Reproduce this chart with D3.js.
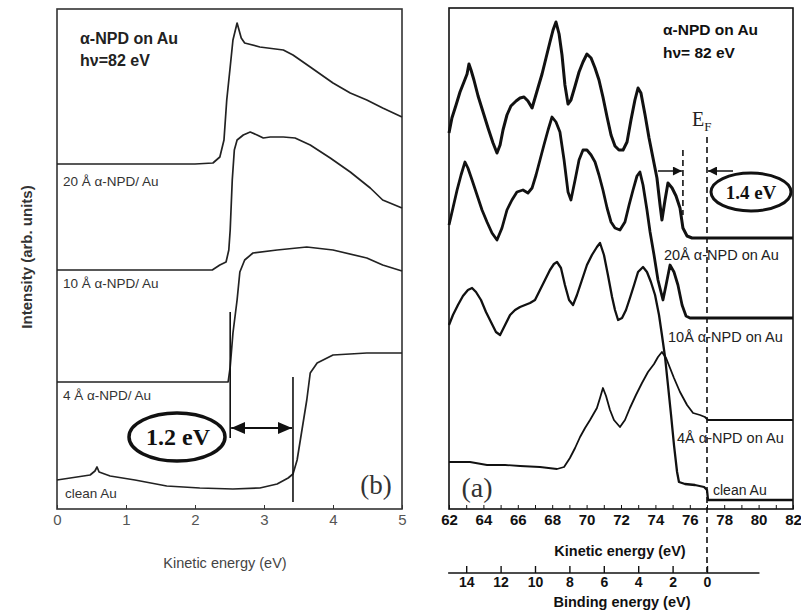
<!DOCTYPE html>
<html><head><meta charset="utf-8">
<script src="https://cdn.jsdelivr.net/npm/d3@7"></script>
<style>body{margin:0;background:#fff} svg{display:block}</style>
</head><body>
<svg id="chart" width="801" height="612"></svg>
<script>
// ---------- Panel (b): secondary-electron cutoff region ----------
const cutoffTicks = [0, 1, 2, 3, 4, 5];
const cutoffLabels = ["20 Å α-NPD/ Au", "10 Å α-NPD/ Au", "4 Å α-NPD/ Au", "clean Au"];
// [kinetic energy (eV), intensity (arb.)]
const cutoff20 = [[0,69],[1,69],[2,69],[2.26,69.2],[2.36,70.4],[2.42,73.8],[2.46,81.8],[2.51,88.4],[2.55,93.8],[2.61,97.2],[2.67,94.2],[2.72,93.2],[2.94,92.4],[3.28,91.8],[3.42,90.8],[3.67,88.4],[4.00,85.2],[4.25,83.2],[4.49,81.8],[4.72,80.2],[5.00,78.4]];
const cutoff10 = [[0,47.8],[1,47.8],[2,47.8],[2.25,47.8],[2.36,48.8],[2.45,49.4],[2.49,51.8],[2.51,55.8],[2.54,65.8],[2.57,71.8],[2.61,73.8],[2.70,74.8],[2.80,75.4],[2.90,74.8],[2.99,74.2],[3.09,74.4],[3.28,74.4],[3.45,74.2],[3.67,72.8],[3.96,70.2],[4.25,67.4],[4.54,64.2],[4.72,61.8],[5.00,60.2]];
const cutoff4 = [[0,25.4],[1,25.4],[2,25.4],[2.48,25.4],[2.51,28.4],[2.55,35.2],[2.61,41.8],[2.65,47.4],[2.72,49.8],[2.84,51.2],[3.19,51.8],[3.62,52.4],[4.00,51.8],[4.49,50.2],[4.72,48.8],[5.00,47.6]];
const cutoffAu = [[0,5.8],[0.48,6.8],[0.55,7.6],[0.58,8.4],[0.61,7.4],[0.77,6.6],[1.13,5.8],[1.59,4.6],[2.07,4.2],[2.55,4.0],[2.94,4.2],[3.19,5.0],[3.35,6.2],[3.42,7.0],[3.48,9.8],[3.55,15.8],[3.62,21.8],[3.67,27.2],[3.77,29.2],[4.00,30.8],[4.49,31.2],[5.00,31.2]];
// cutoff markers: [energy, top intensity, bottom intensity]
const cutoffMarks = [[2.51, 39.4, 14.2], [3.42, 26.4, 1.4]];
const shiftB = "1.2 eV";

// ---------- Panel (a): valence band ----------
const keTicks = [62, 64, 66, 68, 70, 72, 74, 76, 78, 80, 82];
const beTicks = [14, 12, 10, 8, 6, 4, 2, 0];
const fermiKE = 77.0;
const homoKE = 75.6;
const shiftA = "1.4 eV";
const valenceLabels = ["20Å α-NPD on Au", "10Å α-NPD on Au", "4Å α-NPD on Au", "clean Au"];
const vbTop = [[62.00,376],[62.17,391],[62.41,404],[62.64,417],[62.87,427],[63.05,435],[63.16,445],[63.28,439],[63.45,429],[63.69,413],[63.98,397],[64.27,381],[64.56,366],[64.79,356],[64.97,364],[65.14,379],[65.37,394],[65.60,403],[65.90,408],[66.13,411],[66.36,412],[66.59,408],[66.83,401],[67.00,411],[67.17,421],[67.41,435],[67.64,451],[67.87,467],[68.05,479],[68.22,487],[68.40,475],[68.57,454],[68.74,424],[68.92,405],[69.09,409],[69.33,423],[69.56,437],[69.79,447],[70.02,455],[70.26,451],[70.49,441],[70.72,429],[70.95,412],[71.19,392],[71.42,374],[71.65,363],[71.88,359],[72.12,359],[72.35,367],[72.58,389],[72.81,409],[72.99,421],[73.16,416],[73.40,394],[73.63,371],[73.86,351],[74.09,331],[74.27,304],[74.38,289],[74.56,309],[74.73,326],[74.97,321],[75.20,313],[75.43,301],[75.60,281],[75.84,273],[76.13,271],[77.76,271],[80.08,271],[82.00,271]];
const vbSecond = [[62.00,284],[62.23,301],[62.47,319],[62.70,334],[62.93,347],[63.10,341],[63.34,329],[63.63,314],[63.92,299],[64.21,287],[64.50,276],[64.79,269],[65.08,281],[65.37,299],[65.66,309],[65.95,317],[66.30,319],[66.59,316],[66.83,321],[67.06,334],[67.29,349],[67.52,364],[67.76,379],[67.99,392],[68.22,387],[68.45,377],[68.69,349],[68.92,317],[69.09,309],[69.33,329],[69.56,349],[69.79,359],[70.02,359],[70.26,354],[70.49,347],[70.72,334],[70.95,319],[71.19,301],[71.42,287],[71.65,281],[71.94,279],[72.23,287],[72.47,304],[72.70,319],[72.93,333],[73.10,337],[73.28,324],[73.51,299],[73.69,277],[73.92,254],[74.15,229],[74.44,209],[74.62,224],[74.85,244],[75.08,237],[75.31,224],[75.55,204],[75.78,193],[76.01,191],[82.00,191]];
const vbThird = [[62.00,184],[62.23,194],[62.52,204],[62.81,213],[63.10,219],[63.34,221],[63.57,217],[63.86,209],[64.15,197],[64.44,187],[64.73,177],[64.97,174],[65.26,184],[65.55,194],[65.84,199],[66.13,202],[66.42,204],[66.71,206],[67.00,209],[67.29,219],[67.58,229],[67.87,239],[68.10,245],[68.28,247],[68.51,241],[68.74,224],[68.98,209],[69.21,204],[69.44,214],[69.73,229],[70.02,244],[70.31,254],[70.60,262],[70.78,266],[71.01,254],[71.24,234],[71.48,212],[71.65,199],[71.83,189],[72.06,191],[72.29,199],[72.52,211],[72.76,224],[72.99,237],[73.28,242],[73.51,237],[73.74,227],[73.98,214],[74.21,194],[74.38,174],[74.56,152],[74.73,124],[74.91,94],[75.08,64],[75.26,37],[75.37,27],[75.72,25],[76.30,24],[76.83,22],[77.00,19],[77.06,9],[82.00,9]];
const vbFourth = [[62.00,47],[63.22,47],[64.21,44],[65.26,44],[66.13,43],[67.29,42],[68.28,40],[68.69,42],[69.03,51],[69.33,61],[69.62,72],[69.91,81],[70.20,89],[70.60,101],[70.78,111],[70.95,121],[71.13,113],[71.36,99],[71.59,89],[71.94,82],[72.23,89],[72.52,101],[72.87,114],[73.22,126],[73.57,137],[73.92,145],[74.15,152],[74.38,157],[74.62,151],[74.85,141],[75.08,131],[75.43,117],[75.84,104],[76.19,96],[76.59,94],[76.88,92],[77.06,89],[82.00,89]];

const svg = d3.select("#chart");
const ink = "#111";
const sans = "Liberation Sans, Arial, sans-serif";
const serif = "Liberation Serif, Times New Roman, serif";

// shared arrowhead markers
const defs = svg.append("defs");
defs.append("marker").attr("id", "headEnd").attr("viewBox", "0 0 10 10")
  .attr("refX", 10).attr("refY", 5).attr("markerWidth", 10).attr("markerHeight", 9)
  .attr("markerUnits", "userSpaceOnUse").attr("orient", "auto")
  .append("path").attr("d", "M0,0 L10,5 L0,10 Z").attr("fill", ink);
defs.append("marker").attr("id", "bigHead").attr("viewBox", "0 0 14 12")
  .attr("refX", 14).attr("refY", 6).attr("markerWidth", 14).attr("markerHeight", 12)
  .attr("markerUnits", "userSpaceOnUse").attr("orient", "auto-start-reverse")
  .append("path").attr("d", "M0,0 L14,6 L0,12 Z").attr("fill", ink);

// ================= Panel (b) =================
const xB = d3.scaleLinear().domain([0, 5]).range([57, 402]);
const yB = d3.scaleLinear().domain([0, 100]).range([509, 9]);
const gB = svg.append("g");
gB.append("rect").attr("x", 57).attr("y", 9).attr("width", 345).attr("height", 500)
  .attr("fill", "none").attr("stroke", "#333").attr("stroke-width", 1.6);

const lineB = d3.line().x(d => xB(d[0])).y(d => yB(d[1]));
[cutoff20, cutoff10, cutoff4, cutoffAu].forEach(s => {
  gB.append("path").datum(s).attr("d", lineB).attr("fill", "none")
    .attr("stroke", "#222").attr("stroke-width", 1.7).attr("stroke-linejoin", "round");
});

const axB = gB.append("g").attr("transform", "translate(0,509)")
  .call(d3.axisBottom(xB).tickValues(cutoffTicks).tickSize(-4).tickPadding(5).tickFormat(d3.format("d")));
axB.select(".domain").remove();
axB.selectAll("line").attr("stroke", "#333");
axB.selectAll("text").attr("font-family", sans).attr("font-size", 15).attr("fill", "#555");

gB.append("text").attr("x", 225).attr("y", 568).attr("text-anchor", "middle")
  .attr("font-family", sans).attr("font-size", 14.5).attr("fill", "#444")
  .text("Kinetic energy (eV)");
gB.append("text").attr("transform", "translate(32,257) rotate(-90)").attr("text-anchor", "middle")
  .attr("font-family", sans).attr("font-size", 15)
  .attr("font-weight", "bold").attr("fill", "#333").text("Intensity (arb. units)");

gB.append("text").attr("x", 80).attr("y", 44).attr("font-family", sans)
  .attr("font-size", 16).attr("font-weight", "bold").attr("fill", "#222").text("α-NPD on Au");
gB.append("text").attr("x", 80).attr("y", 66).attr("font-family", sans)
  .attr("font-size", 16).attr("font-weight", "bold").attr("fill", "#222").text("hν=82 eV");

const labelYB = [186, 288, 400, 498];
cutoffLabels.forEach((t, i) => {
  gB.append("text").attr("x", i === 3 ? 65 : 63).attr("y", labelYB[i])
    .attr("font-family", sans).attr("font-size", 13.5).attr("fill", "#333").text(t);
});

// cutoff markers and shift arrow
cutoffMarks.forEach(m => {
  gB.append("line").attr("x1", xB(m[0])).attr("x2", xB(m[0]))
    .attr("y1", yB(m[1])).attr("y2", yB(m[2])).attr("stroke", ink).attr("stroke-width", 1.6);
});
gB.append("line").attr("x1", xB(cutoffMarks[0][0]) + 1).attr("x2", xB(cutoffMarks[1][0]) - 1)
  .attr("y1", 428).attr("y2", 428).attr("stroke", ink).attr("stroke-width", 2)
  .attr("marker-start", "url(#bigHead)").attr("marker-end", "url(#bigHead)");
gB.append("ellipse").attr("cx", 177).attr("cy", 437).attr("rx", 48).attr("ry", 24)
  .attr("fill", "none").attr("stroke", ink).attr("stroke-width", 3.5);
gB.append("text").attr("x", 178).attr("y", 445).attr("text-anchor", "middle")
  .attr("font-family", serif).attr("font-size", 24)
  .attr("font-weight", "bold").attr("fill", ink).text(shiftB);
gB.append("text").attr("x", 376).attr("y", 494).attr("text-anchor", "middle")
  .attr("font-family", serif).attr("font-size", 27).attr("fill", "#333").text("(b)");

// ================= Panel (a) =================
const xA = d3.scaleLinear().domain([62, 82]).range([449, 793]);
const yA = d3.scaleLinear().domain([0, 500]).range([509, 9]);
const gA = svg.append("g");
gA.append("rect").attr("x", 449).attr("y", 8).attr("width", 344).attr("height", 501)
  .attr("fill", "none").attr("stroke", ink).attr("stroke-width", 1.6);

const lineA = d3.line().x(d => xA(d[0])).y(d => yA(d[1]));
const widthsA = [3.0, 2.8, 2.3, 1.8];
[vbTop, vbSecond, vbThird, vbFourth].forEach((s, i) => {
  gA.append("path").datum(s).attr("d", lineA).attr("fill", "none")
    .attr("stroke", ink).attr("stroke-width", widthsA[i]).attr("stroke-linejoin", "round");
});

const axA = gA.append("g").attr("transform", "translate(0,509)")
  .call(d3.axisBottom(xA).tickValues(d3.range(62, 83, 1)).tickSize(-4).tickPadding(5)
    .tickFormat(d => keTicks.includes(d) ? d : ""));
axA.select(".domain").remove();
axA.selectAll("line").attr("stroke", ink);
axA.selectAll("text").attr("font-family", sans)
  .attr("font-size", 15).attr("font-weight", "bold").attr("fill", ink);
gA.append("text").attr("x", 620).attr("y", 556).attr("text-anchor", "middle")
  .attr("font-family", sans).attr("font-size", 14.5)
  .attr("font-weight", "bold").attr("fill", ink).text("Kinetic energy (eV)");

// binding energy axis, referenced to the Fermi level
const xBE = d3.scaleLinear().domain([fermiKE - 62, fermiKE - 82]).range([449, 793]);
const axBE = gA.append("g").attr("transform", "translate(0,573)")
  .call(d3.axisBottom(xBE).tickValues(beTicks).tickSize(-7).tickPadding(4).tickSizeOuter(0));
axBE.select(".domain").attr("d", `M${xBE(15.05)},0H${xBE(-3.05)}`).attr("stroke", ink).attr("stroke-width", 1.6);
axBE.selectAll("line").attr("stroke", ink).attr("stroke-width", 1.4);
axBE.selectAll("text").attr("font-family", sans)
  .attr("font-size", 14).attr("font-weight", "bold").attr("fill", ink);
gA.append("text").attr("x", 622).attr("y", 607).attr("text-anchor", "middle")
  .attr("font-family", sans).attr("font-size", 14.5)
  .attr("font-weight", "bold").attr("fill", ink).text("Binding energy (eV)");

// Fermi level and HOMO onset
gA.append("line").attr("x1", xA(fermiKE)).attr("x2", xA(fermiKE)).attr("y1", 137).attr("y2", 572)
  .attr("stroke", ink).attr("stroke-width", 1.6).attr("stroke-dasharray", "6,4");
gA.append("line").attr("x1", xA(homoKE)).attr("x2", xA(homoKE)).attr("y1", 150).attr("y2", 215)
  .attr("stroke", ink).attr("stroke-width", 1.6).attr("stroke-dasharray", "6,4");
gA.append("line").attr("x1", xA(homoKE) - 25).attr("x2", xA(homoKE) - 1).attr("y1", 171).attr("y2", 171)
  .attr("stroke", ink).attr("stroke-width", 1.5).attr("marker-end", "url(#headEnd)");
gA.append("line").attr("x1", xA(fermiKE) + 26).attr("x2", xA(fermiKE) + 1).attr("y1", 171).attr("y2", 171)
  .attr("stroke", ink).attr("stroke-width", 1.5).attr("marker-end", "url(#headEnd)");

const ef = gA.append("text").attr("x", 692).attr("y", 126)
  .attr("font-family", serif).attr("font-size", 20).attr("fill", "#222");
ef.append("tspan").text("E");
ef.append("tspan").attr("font-size", 13).attr("dy", 5).text("F");

gA.append("ellipse").attr("cx", 751).attr("cy", 192).attr("rx", 40).attr("ry", 19)
  .attr("fill", "#fff").attr("stroke", ink).attr("stroke-width", 3);
gA.append("text").attr("x", 751).attr("y", 199).attr("text-anchor", "middle")
  .attr("font-family", serif).attr("font-size", 19)
  .attr("font-weight", "bold").attr("fill", ink).text(shiftA);

gA.append("text").attr("x", 663).attr("y", 35).attr("font-family", sans)
  .attr("font-size", 15.5).attr("font-weight", "bold").attr("fill", ink).text("α-NPD on Au");
gA.append("text").attr("x", 663).attr("y", 58).attr("font-family", sans)
  .attr("font-size", 15.5).attr("font-weight", "bold").attr("fill", ink).text("hν= 82 eV");

const labelPosA = [[664, 260], [668, 342], [677, 443], [713, 495]];
valenceLabels.forEach((t, i) => {
  gA.append("text").attr("x", labelPosA[i][0]).attr("y", labelPosA[i][1])
    .attr("font-family", sans).attr("font-size", i === 3 ? 14 : 14.5)
    .attr("fill", "#222").text(t);
});
gA.append("text").attr("x", 477).attr("y", 497).attr("text-anchor", "middle")
  .attr("font-family", serif).attr("font-size", 28).attr("fill", "#333").text("(a)");
</script>
</body></html>
